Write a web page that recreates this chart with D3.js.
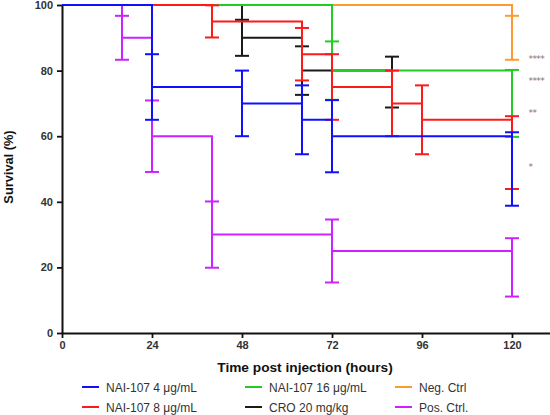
<!DOCTYPE html>
<html><head><meta charset="utf-8">
<script src="https://cdn.jsdelivr.net/npm/d3@7"></script>
<style>body{margin:0;background:#fff;} svg{display:block;font-family:"Liberation Sans",Arial,sans-serif;}</style>
</head><body>
<svg id="chart" width="550" height="415"></svg>
<script>
// ---- data ----
const xTicks = [0, 24, 48, 72, 96, 120];
const yTicks = [0, 20, 40, 60, 80, 100];

const seriesNames = ["NAI-107 4 μg/mL", "NAI-107 8 μg/mL", "NAI-107 16 μg/mL", "CRO 20 mg/kg", "Neg. Ctrl", "Pos. Ctrl."];
const seriesColors = ["#1010ff", "#ff1a1a", "#22cc22", "#1a1a1a", "#ff9933", "#cc22ff"];

const timesBlue = [0, 24, 48, 64, 72, 120];
const survBlue  = [100, 75, 70, 65, 60, 50];
const seBlue    = [0, 10, 10, 10.5, 11, 11.2];

const timesRed = [0, 40, 64, 72, 88, 96, 120];
const survRed  = [100, 95, 85, 75, 70, 65, 55];
const seRed    = [0, 4.9, 8, 10, 10, 10.5, 11.1];

const timesGreen = [0, 72, 120];
const survGreen  = [100, 80, 70];
const seGreen    = [0, 8.9, 10.2];

const timesBlack = [0, 48, 64, 88];
const survBlack  = [100, 90, 80, 76.5];
const seBlack    = [0, 5.5, 7.4, 7.75];

const timesOrange = [0, 120];
const survOrange  = [100, 90];
const seOrange    = [0, 6.7];

const timesPurple = [0, 16, 24, 40, 72, 120];
const survPurple  = [100, 90, 60, 30, 25, 20];
const sePurple    = [0, 6.7, 10.9, 10.1, 9.6, 8.9];

const sigLabels = ["****", "****", "**", "*"];
const sigValues = [84.5, 78, 68.2, 51.7];

// ---- layout ----
const svg = d3.select("#chart");
const x = d3.scaleLinear().domain([0, 130]).range([62, 549.5]);
const y = d3.scaleLinear().domain([0, 100]).range([333, 5]);

const series = [
  {t: timesBlack, s: survBlack, e: seBlack, c: 3},
  {t: timesOrange, s: survOrange, e: seOrange, c: 4},
  {t: timesPurple, s: survPurple, e: sePurple, c: 5},
  {t: timesGreen, s: survGreen, e: seGreen, c: 2},
  {t: timesRed, s: survRed, e: seRed, c: 1},
  {t: timesBlue, s: survBlue, e: seBlue, c: 0}
];

// axes
const yAxis = svg.append("g").attr("transform", "translate(62,0)")
  .call(d3.axisLeft(y).tickValues(yTicks).tickSize(5).tickSizeOuter(0).tickPadding(4));
const xAxis = svg.append("g").attr("transform", "translate(0,333)")
  .call(d3.axisBottom(x).tickValues(xTicks).tickSize(5).tickSizeOuter(0).tickPadding(3));
[yAxis, xAxis].forEach(a => {
  a.select(".domain").attr("stroke", "#111").attr("stroke-width", 2);
  a.selectAll(".tick line").attr("stroke", "#111").attr("stroke-width", 1.8);
  a.selectAll(".tick text").attr("fill", "#333").attr("font-size", 11).attr("font-weight", "bold")
    .attr("font-family", "Liberation Sans, Arial, sans-serif");
});

// curves
const line = d3.line().x(d => x(d[0])).y(d => y(d[1])).curve(d3.curveStepAfter);
const capW = 7;
series.forEach(sr => {
  const col = seriesColors[sr.c];
  const pts = sr.t.map((t, i) => [t, sr.s[i]]);
  const g = svg.append("g");
  g.append("path").attr("d", line(pts)).attr("fill", "none")
    .attr("stroke", col).attr("stroke-width", 2);
  sr.t.forEach((t, i) => {
    if (sr.e[i] <= 0) return;
    const cx = x(t), y1 = y(sr.s[i] + sr.e[i]), y2 = y(sr.s[i] - sr.e[i]);
    g.append("line").attr("x1", cx).attr("x2", cx).attr("y1", y1).attr("y2", y2)
      .attr("stroke", col).attr("stroke-width", 2);
    [y1, y2].forEach(yy => g.append("line").attr("x1", cx - capW).attr("x2", cx + capW)
      .attr("y1", yy).attr("y2", yy).attr("stroke", col).attr("stroke-width", 2));
  });
});

// significance labels
sigLabels.forEach((s, i) => {
  svg.append("text").attr("x", 528.5).attr("y", y(sigValues[i]) + 6.5)
    .attr("font-family", "DejaVu Sans, sans-serif")
    .attr("font-size", 9).attr("fill", "#777").attr("letter-spacing", -0.6).text(s);
});

// axis titles
svg.append("text").attr("x", 305).attr("y", 372).attr("text-anchor", "middle")
  .attr("font-size", 13.7).attr("font-weight", "bold").attr("fill", "#111")
  .text("Time post injection (hours)");
svg.append("text").attr("transform", "translate(13,167) rotate(-90)").attr("text-anchor", "middle")
  .attr("font-size", 12.8).attr("font-weight", "bold").attr("fill", "#111")
  .text("Survival (%)");

// legend
const legCols = [82, 245, 395];
const legRows = [387, 407];
const legOrder = [0, 2, 4, 1, 3, 5];
legOrder.forEach((si, k) => {
  const lx = legCols[k % 3], ly = legRows[Math.floor(k / 3)];
  svg.append("line").attr("x1", lx).attr("x2", lx + 17).attr("y1", ly).attr("y2", ly)
    .attr("stroke", seriesColors[si]).attr("stroke-width", 2);
  svg.append("text").attr("x", lx + 24).attr("y", ly + 4.5).attr("font-size", 12)
    .attr("fill", "#333").text(seriesNames[si]);
});
</script>
</body></html>
